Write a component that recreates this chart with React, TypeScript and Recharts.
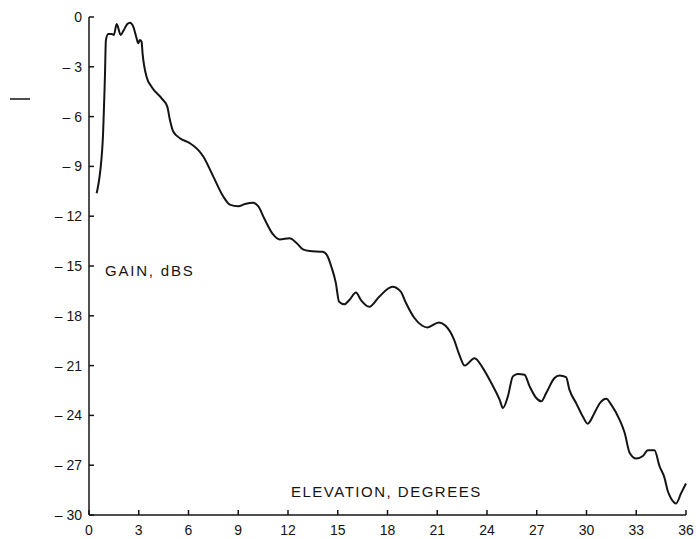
import React from "react";
import { LineChart, Line, XAxis, YAxis, Customized } from "recharts";

const elevation = [
  0.46, 0.82, 0.96, 1.02, 1.16, 1.37, 1.5, 1.67, 1.91, 2.1, 2.31, 2.47, 2.67, 2.87, 2.97, 3.07, 3.17, 3.23,
  3.47, 3.77, 4.38, 4.72, 4.88, 5.08, 5.48, 6.08, 6.58, 6.89, 7.49, 8.09, 8.49, 9.0, 9.4, 9.9, 10.2, 10.6,
  11.1, 11.5, 12.1, 12.5, 12.9, 13.3, 14.1, 14.4, 14.6, 14.88, 15.08, 15.4, 15.7, 16.1, 16.4, 16.9, 17.5,
  18.3, 18.8, 19.1, 19.6, 20.1, 20.4, 21.1, 21.5, 22.0, 22.35, 22.65, 23.25, 23.75, 24.26, 24.76, 24.96,
  25.26, 25.56, 25.86, 26.26, 26.57, 26.97, 27.27, 27.57, 28.07, 28.37, 28.77, 28.97, 29.37, 29.77, 30.07,
  30.48, 30.78, 31.19, 31.49, 31.99, 32.3, 32.6, 33.0, 33.4, 33.7, 34.1, 34.4, 34.7, 34.9, 35.1, 35.4, 35.7,
  36.0,
];

const gain = [
  -10.62, -7.6, -3.6, -1.39, -1.02, -1.02, -1.08, -0.42, -1.08, -0.78, -0.42, -0.34, -0.58, -1.28, -1.58,
  -1.39, -1.49, -2.19, -3.6, -4.2, -4.9, -5.4, -6.2, -6.9, -7.3, -7.6, -8.0, -8.4, -9.6, -10.8, -11.3,
  -11.4, -11.27, -11.19, -11.4, -12.2, -13.1, -13.4, -13.33, -13.6, -14.0, -14.1, -14.14, -14.44, -15.0,
  -16.0, -17.15, -17.3, -17.05, -16.6, -17.05, -17.45, -16.85, -16.25, -16.55, -17.2, -18.1, -18.6, -18.7,
  -18.4, -18.6, -19.4, -20.4, -21.0, -20.55, -21.15, -22.05, -23.05, -23.55, -22.85, -21.65, -21.5, -21.55,
  -22.25, -22.95, -23.15, -22.65, -21.75, -21.6, -21.7, -22.45, -23.25, -24.05, -24.5, -23.85, -23.3, -23.0,
  -23.35, -24.25, -25.05, -26.25, -26.6, -26.45, -26.1, -26.1, -27.05, -27.75, -28.55, -29.0, -29.3, -28.7,
  -28.1,
];

const xTicks = [0, 3, 6, 9, 12, 15, 18, 21, 24, 27, 30, 33, 36];
const yTicks = [0, -3, -6, -9, -12, -15, -18, -21, -24, -27, -30];

const yLabel = "GAIN, dBS";
const xLabel = "ELEVATION, DEGREES";

const data = elevation.map((e, i) => ({ elevation: e, gain: gain[i] }));

const FONT = "'Liberation Sans', Arial, Helvetica, sans-serif";
const INK = "#141414";

const XTick = (props: any) => {
  const { x, y, payload } = props;
  return (
    <g>
      <line x1={x} x2={x} y1={y} y2={y - 5} stroke={INK} strokeWidth={1.5} />
      <text x={x} y={y + 20} textAnchor="middle" fontFamily={FONT} fontSize={14} fill={INK}>
        {payload.value}
      </text>
    </g>
  );
};

const YTick = (props: any) => {
  const { x, y, payload } = props;
  const v = payload.value;
  const label = v === 0 ? "0" : "\u2013 " + Math.abs(v);
  return (
    <g>
      <line x1={x} x2={x + 5} y1={y} y2={y} stroke={INK} strokeWidth={1.5} />
      <text x={x - 7} y={y} dy="0.36em" textAnchor="end" fontFamily={FONT} fontSize={14} fill={INK}>
        {label}
      </text>
    </g>
  );
};

const Labels = () => (
  <g>
    <text x={105} y={276} fontFamily={FONT} fontSize={15} letterSpacing={1.8} fill={INK}>
      {yLabel}
    </text>
    <text x={291} y={497} fontFamily={FONT} fontSize={15} letterSpacing={1.5} fill={INK}>
      {xLabel}
    </text>
    <line x1={10} x2={30} y1={99} y2={99} stroke={INK} strokeWidth={1.5} />
  </g>
);

export default function App() {
  return (
    <div style={{ position: "absolute", left: 0, top: 0, width: 696, height: 539, overflow: "hidden", background: "#fff" }}>
      <LineChart
        width={696}
        height={539}
        data={data}
        margin={{ top: 17, right: 10, bottom: 0, left: 0 }}
      >
        <XAxis
          dataKey="elevation"
          type="number"
          domain={[0, 36]}
          ticks={xTicks}
          interval={0}
          height={24}
          tickSize={0}
          tickMargin={0}
          tickLine={false}
          axisLine={{ stroke: INK, strokeWidth: 1.5 }}
          tick={<XTick />}
        />
        <YAxis
          type="number"
          domain={[-30, 0]}
          ticks={yTicks}
          interval={0}
          width={89}
          tickSize={0}
          tickMargin={0}
          tickLine={false}
          axisLine={{ stroke: INK, strokeWidth: 1.5 }}
          tick={<YTick />}
        />
        <Line
          type="monotone"
          dataKey="gain"
          stroke={INK}
          strokeWidth={2}
          dot={false}
          isAnimationActive={false}
        />
        <Customized component={Labels} />
      </LineChart>
    </div>
  );
}
